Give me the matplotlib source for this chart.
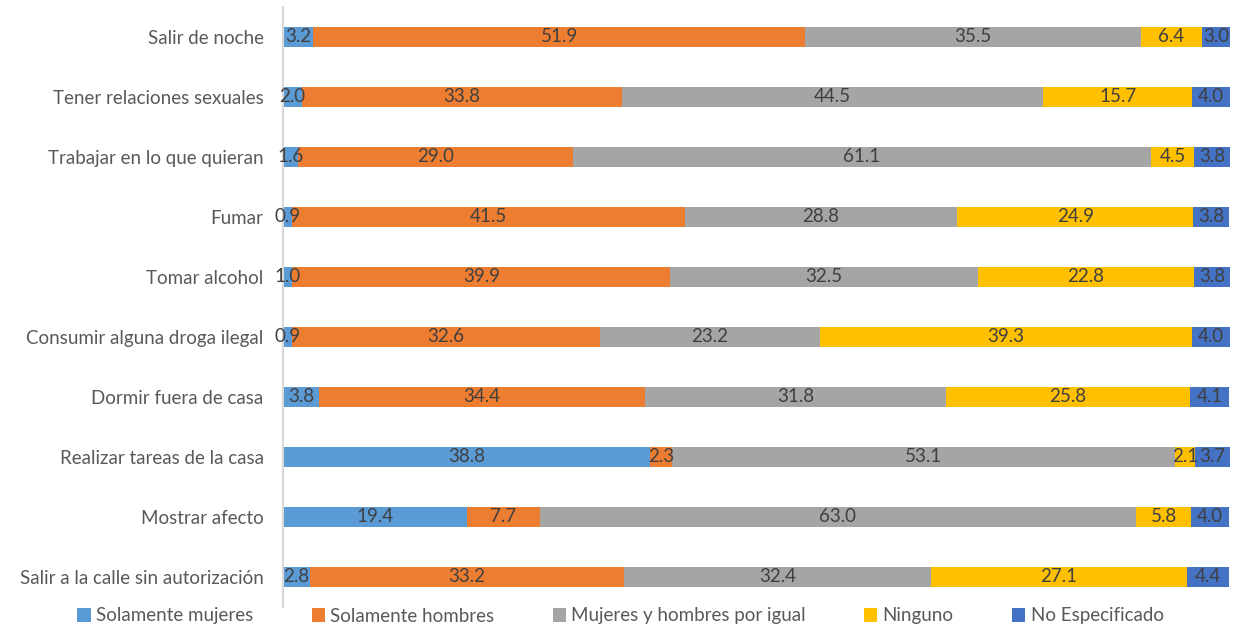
import matplotlib.pyplot as plt
import numpy as np

plt.rcParams['font.family'] = ['Lato', 'DejaVu Sans']

categories = ['Salir de noche', 'Tener relaciones sexuales', 'Trabajar en lo que quieran',
              'Fumar', 'Tomar alcohol', 'Consumir alguna droga ilegal', 'Dormir fuera de casa',
              'Realizar tareas de la casa', 'Mostrar afecto', 'Salir a la calle sin autorización']

solo_mujeres = [3.2, 2.0, 1.6, 0.9, 1.0, 0.9, 3.8, 38.8, 19.4, 2.8]
solo_hombres = [51.9, 33.8, 29.0, 41.5, 39.9, 32.6, 34.4, 2.3, 7.7, 33.2]
por_igual = [35.5, 44.5, 61.1, 28.8, 32.5, 23.2, 31.8, 53.1, 63.0, 32.4]
ninguno = [6.4, 15.7, 4.5, 24.9, 22.8, 39.3, 25.8, 2.1, 5.8, 27.1]
no_especificado = [3.0, 4.0, 3.8, 3.8, 3.8, 4.0, 4.1, 3.7, 4.0, 4.4]

series_names = ['Solamente mujeres', 'Solamente hombres', 'Mujeres y hombres por igual',
                'Ninguno', 'No Especificado']
colors = ['#5B9BD5', '#ED7D31', '#A5A5A5', '#FFC000', '#4472C4']

fig = plt.figure(figsize=(12.41, 6.28), dpi=100)
ax = fig.add_axes([283 / 1241, 1 - 607 / 628, (1230 - 283) / 1241, 600 / 628])

y = np.arange(len(categories))
left = np.zeros(len(categories))
for vals, name, col in zip([solo_mujeres, solo_hombres, por_igual, ninguno, no_especificado],
                           series_names, colors):
    bars = ax.barh(y, vals, left=left, height=0.34, color=col, label=name)
    ax.bar_label(bars, labels=[f'{v:.1f}' for v in vals], label_type='center',
                 fontsize=13.5, color='#404040')
    left += np.array(vals)

ax.set_xlim(0, 100)
ax.set_ylim(len(categories) - 0.5, -0.5)
ax.set_yticks(y)
ax.set_yticklabels(categories, fontsize=13.5, color='#595959')
ax.tick_params(axis='y', length=0, pad=14)
ax.set_xticks([])
for s in ['top', 'right', 'bottom']:
    ax.spines[s].set_visible(False)
ax.spines['left'].set_color('#D9D9D9')
ax.spines['left'].set_linewidth(1.5)

handles, labels = ax.get_legend_handles_labels()
leg = fig.legend(handles, labels, loc='center', bbox_to_anchor=(0.5, 1 - 616 / 628), ncol=5,
                 frameon=False, fontsize=13.5, handlelength=0.7, handleheight=0.7,
                 handletextpad=0.3, columnspacing=3.1)
for t in leg.get_texts():
    t.set_color('#595959')

fig.savefig('out.png', dpi=100)
